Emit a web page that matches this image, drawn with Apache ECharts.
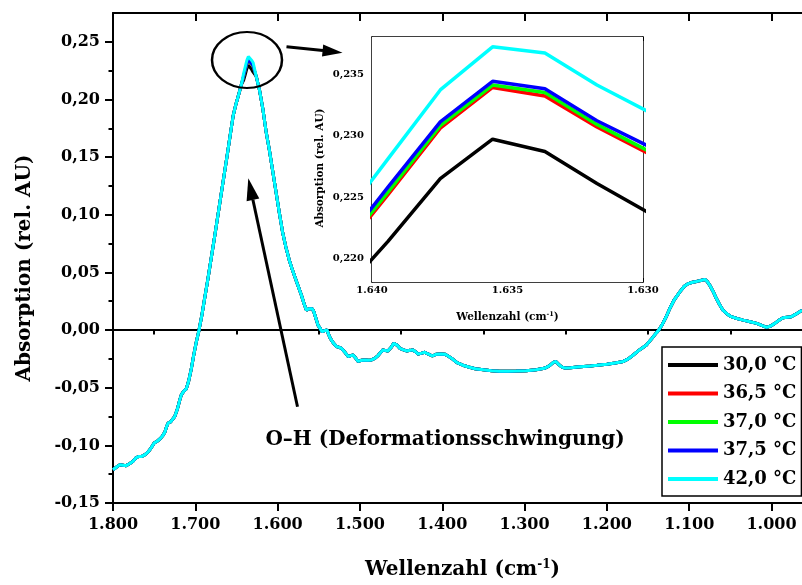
<!DOCTYPE html>
<html>
<head>
<meta charset="utf-8">
<script src="https://cdn.jsdelivr.net/npm/echarts@6/dist/echarts.min.js"></script>
<style>
  html, body { margin: 0; padding: 0; background: #fff; }
  #chart { width: 802px; height: 585px; }
</style>
</head>
<body>
<div id="chart"></div>
<script>
// Temperature series
const seriesNames = ['30,0 °C', '36,5 °C', '37,0 °C', '37,5 °C', '42,0 °C'];
const seriesColors = ['#000000', '#ff0000', '#00ff00', '#0000ff', '#00ffff'];

// IR spectrum, high-wavenumber flank (cm-1, rel. AU)
const wnHigh = [1800, 1796, 1792, 1788, 1784, 1780, 1776, 1772, 1769, 1765, 1761, 1757, 1753, 1750,
  1746, 1743, 1740, 1737, 1735, 1733, 1730, 1728, 1725, 1722, 1719, 1717, 1714, 1711, 1708, 1705,
  1702, 1699, 1695.5, 1692, 1689, 1685, 1681, 1677, 1673, 1669, 1665, 1661, 1657, 1654, 1651, 1647, 1644];
const absHigh = [-0.1212, -0.1190, -0.1169, -0.1172, -0.1176, -0.1160, -0.1140, -0.1108, -0.1097, -0.1096,
  -0.1080, -0.1055, -0.1015, -0.0980, -0.0962, -0.0945, -0.0920, -0.0885, -0.0840, -0.0806, -0.0796,
  -0.0788, -0.0750, -0.0690, -0.0610, -0.0562, -0.0530, -0.0510, -0.0440, -0.0340, -0.0220, -0.0110,
  0.0000, 0.0130, 0.0260, 0.0430, 0.0610, 0.0790, 0.0975, 0.1160, 0.1345, 0.1530, 0.1720, 0.1860,
  0.1950, 0.2050, 0.2130];

// O-H bending maximum, per temperature
const wnPeak = [1641.34, 1639.41, 1637.48, 1635.55, 1633.62, 1631.70, 1629.77];
const peak300 = [0.2167, 0.2214, 0.2265, 0.2297, 0.2287, 0.2261, 0.2237];
const peak365 = [0.2199, 0.2252, 0.2306, 0.2339, 0.2332, 0.2307, 0.2285];
const peak370 = [0.2201, 0.2254, 0.2308, 0.2341, 0.2335, 0.2309, 0.2287];
const peak375 = [0.2204, 0.2258, 0.2311, 0.2344, 0.2338, 0.2312, 0.2291];
const peak420 = [0.2225, 0.2281, 0.2337, 0.2372, 0.2367, 0.2341, 0.2319];
const peakSets = [peak300, peak365, peak370, peak375, peak420];

// IR spectrum, low-wavenumber side
const wnLow = [1626, 1622, 1618, 1614, 1610, 1606, 1602, 1598, 1594, 1590, 1586, 1582, 1579, 1577, 1574,
  1571, 1568, 1565, 1562, 1560, 1558, 1556, 1553, 1551, 1548, 1546, 1543, 1540, 1538, 1536, 1532,
  1528.6, 1525, 1522.5, 1518, 1514.4, 1511, 1508.4, 1505, 1502.3, 1498, 1494, 1490, 1486, 1482, 1478,
  1475, 1472, 1469, 1466, 1462, 1459, 1457.7, 1455, 1451.6, 1447, 1443.5, 1439, 1436, 1432, 1429.4,
  1425, 1421.3, 1418, 1416, 1412, 1407, 1402, 1397, 1393, 1388.8, 1384.8, 1380.8, 1375, 1368, 1360,
  1350, 1340, 1330, 1320, 1310, 1298, 1286, 1276, 1270, 1265, 1262, 1259, 1255, 1251, 1244, 1236,
  1228, 1220, 1212, 1200, 1190, 1180, 1174, 1168, 1160, 1152, 1145, 1140, 1137, 1133, 1128, 1123.6,
  1118, 1111.4, 1106, 1101, 1096, 1091, 1086, 1081, 1078, 1075, 1071, 1067, 1063, 1059, 1054, 1049,
  1042, 1034.5, 1026, 1018, 1012, 1006, 1001, 996, 990, 986, 981, 976, 970, 963];
const absLow = [0.2200, 0.2080, 0.1920, 0.1720, 0.1560, 0.1380, 0.1200, 0.1020, 0.0850, 0.0720, 0.0610,
  0.0520, 0.0460, 0.0420, 0.0360, 0.0300, 0.0230, 0.0172, 0.0185, 0.0201, 0.0185, 0.0159, 0.0090,
  0.0043, 0.0010, -0.0014, -0.0005, 0.0000, -0.0040, -0.0072, -0.0115, -0.0143, -0.0150, -0.0158,
  -0.0195, -0.0229, -0.0222, -0.0216, -0.0245, -0.0272, -0.0262, -0.0259, -0.0262, -0.0259, -0.0245,
  -0.0221, -0.0195, -0.0172, -0.0178, -0.0181, -0.0150, -0.0115, -0.0106, -0.0130, -0.0158, -0.0172,
  -0.0181, -0.0176, -0.0172, -0.0190, -0.0209, -0.0200, -0.0192, -0.0205, -0.0221, -0.0225, -0.0209,
  -0.0208, -0.0209, -0.0225, -0.0244, -0.0268, -0.0287, -0.0305, -0.0320, -0.0335, -0.0345, -0.0352,
  -0.0357, -0.0357, -0.0356, -0.0353, -0.0345, -0.0332, -0.0310, -0.0280, -0.0272, -0.0295, -0.0320,
  -0.0330, -0.0326, -0.0320, -0.0316, -0.0312, -0.0306, -0.0296, -0.0285, -0.0272, -0.0250, -0.0216,
  -0.0170, -0.0129, -0.0070, -0.0025, 0.0000, 0.0045, 0.0115, 0.0187, 0.0265, 0.0331, 0.0380, 0.0403,
  0.0415, 0.0422, 0.0430, 0.0440, 0.0420, 0.0388, 0.0335, 0.0273, 0.0220, 0.0172, 0.0140, 0.0116,
  0.0100, 0.0086, 0.0072, 0.0058, 0.0040, 0.0023, 0.0035, 0.0058, 0.0090, 0.0107, 0.0112, 0.0116,
  0.0140, 0.0172];

// Axis ticks
const xMajorTicks = [1800, 1700, 1600, 1500, 1400, 1300, 1200, 1100, 1000];
const xMinorTicks = [1750, 1650, 1550, 1450, 1350, 1250, 1150, 1050];
const yMajorTicks = [-0.15, -0.10, -0.05, 0.00, 0.05, 0.10, 0.15, 0.20, 0.25];
const yMinorTicks = [-0.125, -0.075, -0.025, 0.025, 0.075, 0.125, 0.175, 0.225];
const insetXMajorTicks = [1640, 1635, 1630];
const insetXMinorTicks = [1637.5, 1632.5];
const insetYMajorTicks = [0.220, 0.225, 0.230, 0.235];
const insetYMinorTicks = [0.2225, 0.2275, 0.2325, 0.2375];

const FONT = '"DejaVu Serif", "Liberation Serif", serif';
const zip = (xs, ys) => xs.map((x, i) => [x, ys[i]]);
const fmtWn = v => String(Math.round(v)).replace(/(\d)(\d{3})$/, '$1.$2');

const chart = echarts.init(document.getElementById('chart'), null, { renderer: 'canvas' });

// axis builders
function tickAxis(opts) {
  return Object.assign({
    type: 'value', splitLine: { show: false },
    axisLine: { show: false }, axisLabel: { show: false },
    axisTick: { show: false }
  }, opts);
}

const xAxes = [
  // main bottom
  tickAxis({
    gridIndex: 0, position: 'bottom', inverse: true, min: 963, max: 1800,
    axisLine: { show: true, onZero: false, lineStyle: { color: '#000', width: 2 } },
    axisTick: { show: true, customValues: xMajorTicks, length: 8, lineStyle: { color: '#000', width: 2 } },
    axisLabel: { show: true, customValues: xMajorTicks, formatter: fmtWn, margin: 14,
      fontFamily: FONT, fontWeight: 'bold', fontSize: 16, color: '#000' },
    name: 'Wellenzahl (cm{sup|-1})', nameLocation: 'middle', nameGap: 56,
    nameTextStyle: { fontFamily: FONT, fontWeight: 'bold', fontSize: 20, color: '#000', padding: [0, 0, 0, 10],
      rich: { sup: { fontFamily: FONT, fontWeight: 'bold', fontSize: 12, color: '#000', padding: [0, 0, 10, 0] } } }
  }),
  tickAxis({
    gridIndex: 0, position: 'bottom', inverse: true, min: 963, max: 1800,
    axisTick: { show: true, customValues: xMinorTicks, length: 4.5, lineStyle: { color: '#000', width: 2 } }
  }),
  // main top
  tickAxis({
    gridIndex: 0, position: 'top', inverse: true, min: 963, max: 1800,
    axisLine: { show: true, onZero: false, lineStyle: { color: '#000', width: 2 } },
    axisTick: { show: true, inside: true, customValues: xMajorTicks, length: 8, lineStyle: { color: '#000', width: 2 } }
  }),
  tickAxis({
    gridIndex: 0, position: 'top', inverse: true, min: 963, max: 1800,
    axisTick: { show: true, inside: true, customValues: xMinorTicks, length: 4.5, lineStyle: { color: '#000', width: 2 } }
  }),
  // inset bottom
  tickAxis({
    gridIndex: 1, position: 'bottom', inverse: true, min: 1630, max: 1640,
    axisLine: { show: true, onZero: false, lineStyle: { color: '#000', width: 1.5 } },
    axisTick: { show: true, inside: true, customValues: insetXMajorTicks, length: 4, lineStyle: { color: '#000', width: 1 } },
    axisLabel: { show: true, customValues: insetXMajorTicks, formatter: fmtWn, margin: 3,
      fontFamily: FONT, fontWeight: 'bold', fontSize: 10, color: '#000' },
    name: 'Wellenzahl (cm{sup|-1})', nameLocation: 'middle', nameGap: 29,
    nameTextStyle: { fontFamily: FONT, fontWeight: 'bold', fontSize: 10.5, color: '#000',
      rich: { sup: { fontFamily: FONT, fontWeight: 'bold', fontSize: 6.5, color: '#000', padding: [0, 0, 5, 0] } } }
  }),
  tickAxis({
    gridIndex: 1, position: 'bottom', inverse: true, min: 1630, max: 1640,
    axisTick: { show: true, inside: true, customValues: insetXMinorTicks, length: 2.5, lineStyle: { color: '#000', width: 1 } }
  }),
  // inset top
  tickAxis({
    gridIndex: 1, position: 'top', inverse: true, min: 1630, max: 1640,
    axisLine: { show: true, onZero: false, lineStyle: { color: '#000', width: 1.5 } },
    axisTick: { show: true, inside: true, customValues: insetXMajorTicks, length: 4, lineStyle: { color: '#000', width: 1 } }
  }),
  tickAxis({
    gridIndex: 1, position: 'top', inverse: true, min: 1630, max: 1640,
    axisTick: { show: true, inside: true, customValues: insetXMinorTicks, length: 2.5, lineStyle: { color: '#000', width: 1 } }
  })
];

const fmtAbs2 = v => v.toFixed(2).replace('.', ',');
const fmtAbs3 = v => v.toFixed(3).replace('.', ',');

const yAxes = [
  // main left
  tickAxis({
    gridIndex: 0, position: 'left', min: -0.15, max: 0.275,
    axisLine: { show: true, onZero: false, lineStyle: { color: '#000', width: 2 } },
    axisTick: { show: true, customValues: yMajorTicks, length: 8, lineStyle: { color: '#000', width: 2 } },
    axisLabel: { show: true, customValues: yMajorTicks, formatter: fmtAbs2, margin: 13,
      fontFamily: FONT, fontWeight: 'bold', fontSize: 16, color: '#000' },
    name: 'Absorption (rel. AU)', nameLocation: 'middle', nameGap: 78,
    nameTextStyle: { fontFamily: FONT, fontWeight: 'bold', fontSize: 20, color: '#000', padding: [0, 20, 0, 0] }
  }),
  tickAxis({
    gridIndex: 0, position: 'left', min: -0.15, max: 0.275,
    axisTick: { show: true, customValues: yMinorTicks, length: 4.5, lineStyle: { color: '#000', width: 2 } }
  }),
  // inset left
  tickAxis({
    gridIndex: 1, position: 'left', min: 0.2181, max: 0.2380,
    axisLine: { show: true, onZero: false, lineStyle: { color: '#000', width: 1.5 } },
    axisTick: { show: true, inside: true, customValues: insetYMajorTicks, length: 4, lineStyle: { color: '#000', width: 1 } },
    axisLabel: { show: true, customValues: insetYMajorTicks, formatter: fmtAbs3, margin: 8,
      fontFamily: FONT, fontWeight: 'bold', fontSize: 10, color: '#000' },
    name: 'Absorption (rel. AU)', nameLocation: 'middle', nameGap: 46,
    nameTextStyle: { fontFamily: FONT, fontWeight: 'bold', fontSize: 10.5, color: '#000', padding: [0, 17, 0, 0] }
  }),
  tickAxis({
    gridIndex: 1, position: 'left', min: 0.2181, max: 0.2380,
    axisTick: { show: true, inside: true, customValues: insetYMinorTicks, length: 2.5, lineStyle: { color: '#000', width: 1 } }
  }),
  // inset right
  tickAxis({
    gridIndex: 1, position: 'right', min: 0.2181, max: 0.2380,
    axisLine: { show: true, onZero: false, lineStyle: { color: '#000', width: 1.5 } },
    axisTick: { show: true, inside: true, customValues: insetYMajorTicks, length: 4, lineStyle: { color: '#000', width: 1 } }
  }),
  tickAxis({
    gridIndex: 1, position: 'right', min: 0.2181, max: 0.2380,
    axisTick: { show: true, inside: true, customValues: insetYMinorTicks, length: 2.5, lineStyle: { color: '#000', width: 1 } }
  })
];

const series = [];
seriesNames.forEach((name, i) => {
  const data = zip(wnHigh, absHigh).concat(zip(wnPeak, peakSets[i]), zip(wnLow, absLow));
  const s = {
    name, type: 'line', xAxisIndex: 0, yAxisIndex: 0, data,
    symbol: 'none', smooth: false, animation: false, z: 3 + i,
    lineStyle: { color: seriesColors[i], width: 3 }, itemStyle: { color: seriesColors[i] }
  };
  if (i === 0) {
    s.markLine = {
      silent: true, symbol: 'none', animation: false,
      label: { show: false },
      lineStyle: { color: '#000', width: 2, type: 'solid' },
      data: [{ yAxis: 0 }]
    };
  }
  series.push(s);
});
seriesNames.forEach((name, i) => {
  series.push({
    name, type: 'line', xAxisIndex: 4, yAxisIndex: 2, data: zip(wnPeak, peakSets[i]),
    symbol: 'none', animation: false, clip: true, z: 10 + i,
    lineStyle: { color: seriesColors[i], width: 3.5 }, itemStyle: { color: seriesColors[i] }
  });
});

// annotation: circled maximum with arrows and band label
const graphic = [
  { type: 'circle', x: 247, y: 60, scaleY: 0.8, shape: { cx: 0, cy: 0, r: 35 },
    style: { fill: 'none', stroke: '#000', lineWidth: 2.5, strokeNoScale: true }, z: 100 },
  { type: 'line', shape: { x1: 286.5, y1: 46.7, x2: 323, y2: 50.6 },
    style: { stroke: '#000', lineWidth: 3 }, z: 100 },
  { type: 'polygon', shape: { points: [[342.5, 52.7], [322.0, 56.6], [323.2, 44.6]] },
    style: { fill: '#000' }, z: 100 },
  { type: 'line', shape: { x1: 297.5, y1: 406.7, x2: 252.9, y2: 199.8 },
    style: { stroke: '#000', lineWidth: 3 }, z: 100 },
  { type: 'polygon', shape: { points: [[248.3, 178.3], [259.3, 198.4], [246.6, 201.2]] },
    style: { fill: '#000' }, z: 100 },
  { type: 'text', x: 445, y: 440,
    style: { text: 'O–H (Deformationsschwingung)', font: 'bold 20px ' + FONT, fill: '#000',
      align: 'center', verticalAlign: 'middle' }, z: 100 }
];

chart.setOption({
  animation: false,
  backgroundColor: '#fff',
  grid: [
    { left: 113, top: 13, right: 0, bottom: 79, containLabel: false },
    { left: 372, top: 37, width: 271, height: 245, show: true, backgroundColor: '#fff', borderWidth: 0, z: 5 }
  ],
  legend: {
    orient: 'vertical', left: 662, top: 347,
    itemWidth: 50, itemHeight: 4, itemGap: 8.5,
    padding: [8, 5, 7, 6],
    borderColor: '#000', borderWidth: 1.5, backgroundColor: '#fff',
    icon: 'rect',
    textStyle: { fontFamily: FONT, fontWeight: 'bold', fontSize: 18, color: '#000', lineHeight: 20 },
    data: seriesNames
  },
  xAxis: xAxes,
  yAxis: yAxes,
  series,
  graphic
});
</script>
</body>
</html>
